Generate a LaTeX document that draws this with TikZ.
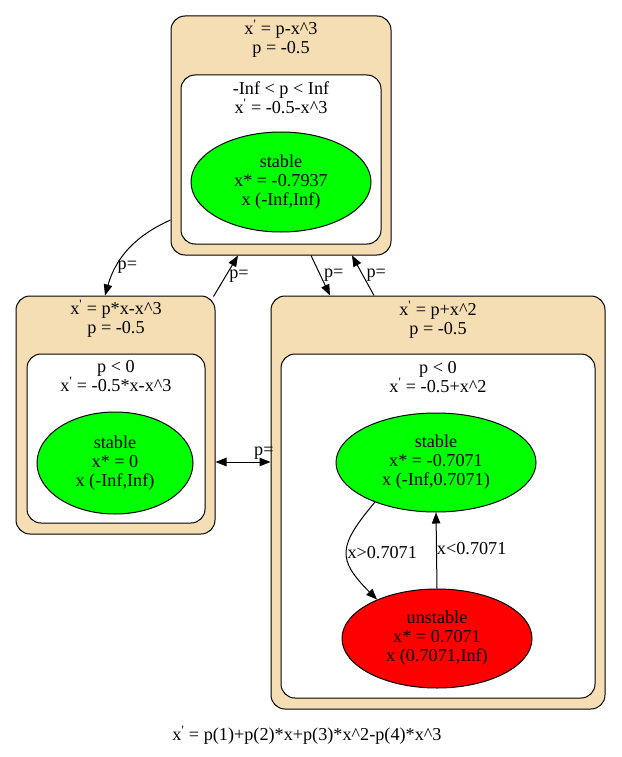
\documentclass[tikz,border=0pt]{standalone}
\usepackage{fontspec}
\setmainfont{Liberation Serif}
\usetikzlibrary{arrows.meta,shapes.geometric}

\definecolor{wheat}{HTML}{F5DEB3}
\definecolor{stablegreen}{HTML}{00FF00}
\definecolor{unstablered}{HTML}{FF0000}

\newcommand{\lblfont}{\fontsize{18.2}{19}\selectfont}
\newcommand{\xprime}{x\textsuperscript{\textquotesingle}}
\newcommand{\pw}{\textasciicircum}

\tikzset{
  model/.style={draw, rounded corners=14pt, fill=wheat, line width=1pt, inner sep=0pt},
  regime/.style={draw, rounded corners=14pt, fill=white, line width=1pt, inner sep=0pt},
  fixpt/.style={draw, ellipse, line width=1pt, inner sep=0pt, align=center, font=\lblfont},
  lbl/.style={align=center, font=\lblfont, inner sep=1pt},
  trans/.style={-{Triangle[length=11pt,width=8.5pt]}, line width=1pt},
}

\begin{document}
\begin{tikzpicture}[x=1pt,y=1pt]
  \useasboundingbox (0,0) rectangle (621,-757);

  % models
  \node[model, minimum width=220pt, minimum height=239pt] (cube) at (281,-135.5) {};
  \node[regime, minimum width=200pt, minimum height=169pt] (cubeall) at (281,-159.5) {};
  \node[lbl] (cubet) at (281,-39) {\xprime{} = p-x\pw3\\p = -0.5};
  \node[lbl] (cubeallt) at (281,-97.5) {-Inf < p < Inf\\\xprime{} = -0.5-x\pw3};
  \node[fixpt, fill=stablegreen, minimum width=180pt, minimum height=100pt] (cubes) at (281,-182) {stable\\x* = -0.7937\\x (-Inf,Inf)};

  \node[model, minimum width=199pt, minimum height=238pt] (pitch) at (115.5,-415) {};
  \node[regime, minimum width=178pt, minimum height=169pt] (pitchneg) at (116,-438.5) {};
  \node[lbl] (pitcht) at (116,-319) {\xprime{} = p*x-x\pw3\\p = -0.5};
  \node[lbl] (pitchnegt) at (116,-376.5) {p < 0\\\xprime{} = -0.5*x-x\pw3};
  \node[fixpt, fill=stablegreen, minimum width=156pt, minimum height=102pt] (pitchs) at (115,-463) {stable\\x* = 0\\x (-Inf,Inf)};

  \node[model, minimum width=334pt, minimum height=413pt] (saddle) at (438,-502.5) {};
  \node[regime, minimum width=314pt, minimum height=344pt] (saddleneg) at (438,-526) {};
  \node[lbl] (saddlet) at (438,-319.5) {\xprime{} = p+x\pw2\\p = -0.5};
  \node[lbl] (saddlenegt) at (438,-377) {p < 0\\\xprime{} = -0.5+x\pw2};
  \node[fixpt, fill=stablegreen, minimum width=200pt, minimum height=99pt] (saddles) at (436,-462.5) {stable\\x* = -0.7071\\x (-Inf,0.7071)};
  \node[fixpt, fill=unstablered, minimum width=190pt, minimum height=99pt] (saddleu) at (437,-638.5) {unstable\\x* = 0.7071\\x (0.7071,Inf)};

  % transitions
  \draw[trans] ([yshift=-84.5pt]cube.west) to[bend right=25] node[lbl, pos=0.72, right] (l1) {p=} ([xshift=-10.5pt]pitch.north);
  \draw[trans] ([xshift=-2pt,yshift=-1pt]pitch.north east) -- node[lbl, right=2pt] (l2) {p=} ([xshift=-43pt]cube.south);
  \draw[trans] ([xshift=30pt]cube.south) -- node[lbl, right=2pt] (l3) {p=} ([xshift=-108pt]saddle.north);
  \draw[trans] ([xshift=-64pt]saddle.north) -- node[lbl, right=2pt] (l4) {p=} ([xshift=71pt]cube.south);
  \draw[{Triangle[length=11pt,width=8.5pt]}-{Triangle[length=11pt,width=8.5pt]}, line width=1pt] ([yshift=-47pt]pitch.east) -- node[lbl, pos=0.88, above=1pt] (l5) {p=} ([yshift=40.5pt]saddle.west);
  \draw[trans] (saddles.213) to[out=230,in=135,looseness=1.5] node[lbl, pos=0.5, right=-1pt] (l6) {x>0.7071} (saddleu.147);
  \draw[trans] (saddleu.north) -- node[lbl, pos=0.52, right=-1pt] (l7) {x<0.7071} (saddles.south);

  \node[lbl] (law) at (307,-735) {\xprime{} = p(1)+p(2)*x+p(3)*x\pw2-p(4)*x\pw3};
\end{tikzpicture}
\end{document}
